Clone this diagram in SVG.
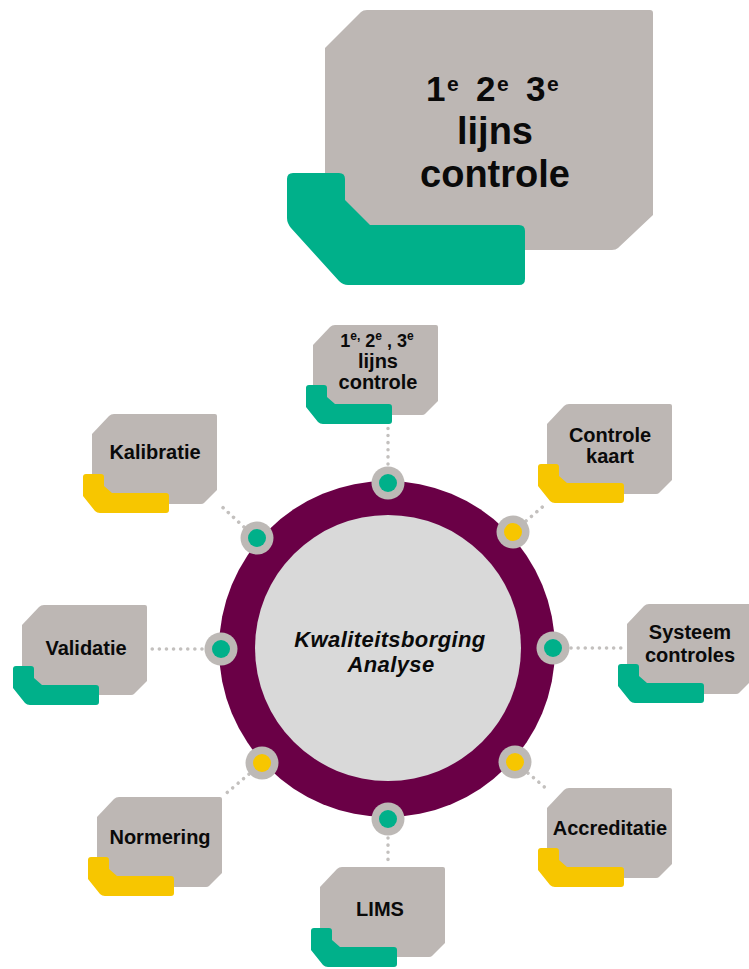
<svg xmlns="http://www.w3.org/2000/svg" xmlns:xlink="http://www.w3.org/1999/xlink" width="749" height="969" viewBox="0 0 749 969">
<style>
.card{fill:#bdb7b4}
.g{fill:#00b08a}
.y{fill:#f7c600}
.t{font-family:"Liberation Sans",Arial,sans-serif;font-weight:bold;fill:#0a0a0a;text-anchor:middle}
.s{font-size:20px}
.conn{stroke:#c3c0be;stroke-width:3.5;stroke-linecap:round;stroke-dasharray:0.1 7;fill:none}
.ring{fill:#bdb9b6}
</style>
<defs>
<path id="cg" d="M0,20 L17,2 Q19,0 22,0 H123 Q125,0 125,2 V76 L112,89 Q111,90 109,90 H2 Q0,90 0,88 Z"/>
<path id="br" d="M-9,64 Q-9,61 -6,61 H9 Q12,61 12,64 V73 L20,80 H74 Q77,80 77,83 V97 Q77,100 74,100 H8 Q5,100 3,98 L-9,83 Z"/>
</defs>
<rect width="749" height="969" fill="#fff"/>

<g id="title">
<path class="card" d="M325,48 L361,12 Q363,10 367,10 H650 Q653,10 653,13 V215 L618,248 Q616,250 612,250 H328 Q325,250 325,247 Z"/>
<path class="g" d="M287,179 Q287,173 293,173 H339 Q345,173 345,179 V200 L370,225 H519 Q525,225 525,231 V279 Q525,285 519,285 H348 Q343,285 339,281 L291,228 Q287,223 287,218 Z"/>
<text class="t" style="text-anchor:start" font-size="35"><tspan x="426" y="101">1</tspan><tspan x="447" y="91" font-size="21">e</tspan><tspan x="476" y="101">2</tspan><tspan x="497" y="91" font-size="21">e</tspan><tspan x="526" y="101">3</tspan><tspan x="547" y="91" font-size="21">e</tspan></text>
<text class="t" font-size="38" x="495" y="144">lijns</text>
<text class="t" font-size="38" x="495" y="187">controle</text>
</g>

<g id="connectors">
<line class="conn" x1="388" y1="464" x2="388" y2="420"/>
<line class="conn" x1="526" y1="521" x2="547" y2="503"/>
<line class="conn" x1="571" y1="648" x2="626" y2="648"/>
<line class="conn" x1="528" y1="773" x2="548" y2="790"/>
<line class="conn" x1="388" y1="838" x2="388" y2="866"/>
<line class="conn" x1="249" y1="774" x2="223" y2="796"/>
<line class="conn" x1="202" y1="649" x2="147" y2="649"/>
<line class="conn" x1="244" y1="527" x2="218" y2="503"/>
</g>

<g id="hub">
<circle cx="387" cy="649" r="168" fill="#6a0046"/>
<circle cx="388" cy="648" r="133" fill="#d9d9d9"/>
<text class="t" font-size="22" font-style="italic" letter-spacing="0.4" x="390" y="647">Kwaliteitsborging</text>
<text class="t" font-size="22" font-style="italic" letter-spacing="0.4" x="391" y="672">Analyse</text>
</g>

<g id="dots">
<circle class="ring" cx="388" cy="483" r="16.5"/><circle class="g" cx="388" cy="483" r="9"/>
<circle class="ring" cx="513" cy="532" r="16.5"/><circle class="y" cx="513" cy="532" r="9"/>
<circle class="ring" cx="553" cy="648" r="16.5"/><circle class="g" cx="553" cy="648" r="9"/>
<circle class="ring" cx="515" cy="762" r="16.5"/><circle class="y" cx="515" cy="762" r="9"/>
<circle class="ring" cx="388" cy="819" r="16.5"/><circle class="g" cx="388" cy="819" r="9"/>
<circle class="ring" cx="262" cy="763" r="16.5"/><circle class="y" cx="262" cy="763" r="9"/>
<circle class="ring" cx="221" cy="649" r="16.5"/><circle class="g" cx="221" cy="649" r="9"/>
<circle class="ring" cx="257" cy="538" r="16.5"/><circle class="g" cx="257" cy="538" r="9"/>
</g>

<g id="card-lijns">
<use href="#cg" class="card" x="313" y="325"/>
<use href="#br" class="g" x="315" y="324"/>
<text class="t" font-size="18"><tspan x="377" y="347">1</tspan><tspan dy="-7" font-size="12">e,</tspan><tspan dy="7"> 2</tspan><tspan dy="-7" font-size="12">e</tspan><tspan dy="7"> , 3</tspan><tspan dy="-7" font-size="12">e</tspan></text>
<text class="t s" x="378" y="368">lijns</text>
<text class="t s" x="378" y="389">controle</text>
</g>

<g id="card-kalibratie">
<use href="#cg" class="card" x="92" y="414"/>
<use href="#br" class="y" x="92" y="413"/>
<text class="t s" x="155" y="459">Kalibratie</text>
</g>

<g id="card-controlekaart">
<use href="#cg" class="card" x="547" y="404"/>
<use href="#br" class="y" x="547" y="403"/>
<text class="t s" x="610" y="442">Controle</text>
<text class="t s" x="610" y="463">kaart</text>
</g>

<g id="card-systeem">
<use href="#cg" class="card" x="627" y="604"/>
<use href="#br" class="g" x="627" y="603"/>
<text class="t s" x="690" y="639">Systeem</text>
<text class="t s" x="690" y="662">controles</text>
</g>

<g id="card-validatie">
<use href="#cg" class="card" x="22" y="605"/>
<use href="#br" class="g" x="22" y="605"/>
<text class="t s" x="86" y="655">Validatie</text>
</g>

<g id="card-normering">
<use href="#cg" class="card" x="97" y="797"/>
<use href="#br" class="y" x="97" y="796"/>
<text class="t s" x="160" y="844">Normering</text>
</g>

<g id="card-lims">
<use href="#cg" class="card" x="320" y="867"/>
<use href="#br" class="g" x="320" y="867"/>
<text class="t s" x="380" y="916">LIMS</text>
</g>

<g id="card-accreditatie">
<use href="#cg" class="card" x="547" y="788"/>
<use href="#br" class="y" x="547" y="787"/>
<text class="t s" x="610" y="835">Accreditatie</text>
</g>
</svg>
